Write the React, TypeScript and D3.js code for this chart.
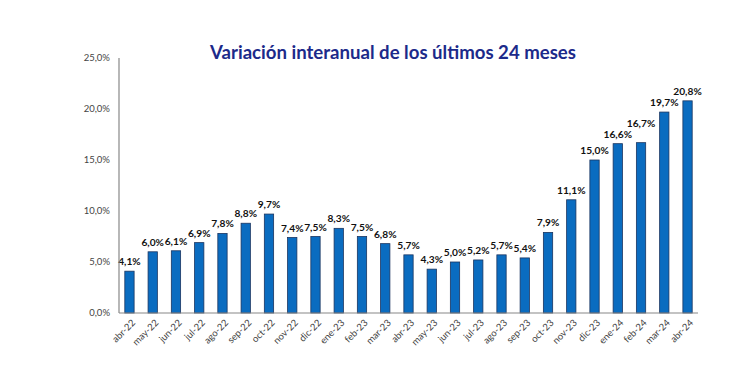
import React, { useEffect, useRef } from 'react';
import * as d3 from 'd3';

const months = [
  'abr-22', 'may-22', 'jun-22', 'jul-22', 'ago-22', 'sep-22', 'oct-22', 'nov-22',
  'dic-22', 'ene-23', 'feb-23', 'mar-23', 'abr-23', 'may-23', 'jun-23', 'jul-23',
  'ago-23', 'sep-23', 'oct-23', 'nov-23', 'dic-23', 'ene-24', 'feb-24', 'mar-24', 'abr-24',
];

const values = [
  4.1, 6.0, 6.1, 6.9, 7.8, 8.8, 9.7, 7.4, 7.5, 8.3, 7.5, 6.8, 5.7, 4.3, 5.0, 5.2,
  5.7, 5.4, 7.9, 11.1, 15.0, 16.6, 16.7, 19.7, 20.8,
];

const yTicks = [0, 5, 10, 15, 20, 25];

const fmt = (v: number) => v.toFixed(1).replace('.', ',') + '%';

const App = () => {
  const ref = useRef<SVGSVGElement>(null);

  useEffect(() => {
    if (!ref.current) return;
    const svg = d3.select(ref.current);
    svg.selectAll('*').remove();

    const left = 119, right = 698, top = 58, bottom = 313;
    const data = months.map((m, i) => ({ name: m, value: values[i] }));

    const x = d3.scaleBand()
      .domain(data.map(d => d.name))
      .range([left, right])
      .paddingInner(0.6)
      .paddingOuter(0.25);

    const y = d3.scaleLinear().domain([0, 25]).range([bottom, top]);

    svg.append('text')
      .attr('x', 393)
      .attr('y', 59)
      .attr('text-anchor', 'middle')
      .attr('font-family', 'Lato, "Open Sans", sans-serif')
      .attr('font-weight', 'bold')
      .attr('font-size', 18.6)
      .attr('fill', '#1c2a8a')
      .text('Variación interanual de los últimos 24 meses');

    // y tick labels
    svg.append('g')
      .selectAll('text')
      .data(yTicks)
      .enter()
      .append('text')
      .attr('x', left - 9)
      .attr('y', d => y(d))
      .attr('dy', '0.35em')
      .attr('text-anchor', 'end')
      .attr('font-family', 'Lato, sans-serif')
      .attr('font-size', 9.5)
      .attr('fill', '#444')
      .text(d => fmt(d));

    // bars
    svg.append('g')
      .selectAll('rect')
      .data(data)
      .enter()
      .append('rect')
      .attr('x', d => x(d.name)!)
      .attr('y', d => y(d.value))
      .attr('width', x.bandwidth())
      .attr('height', d => y(0) - y(d.value))
      .attr('fill', '#0a6cc0')
      .attr('stroke', '#1b3560')
      .attr('stroke-width', 0.8);

    // value labels, lifted when they would collide with the previous one
    const labels = svg.append('g')
      .selectAll('text')
      .data(data)
      .enter()
      .append('text')
      .attr('x', d => x(d.name)! + x.bandwidth() / 2)
      .attr('y', d => y(d.value) - 6)
      .attr('text-anchor', 'middle')
      .attr('font-family', 'Lato, sans-serif')
      .attr('font-weight', 'bold')
      .attr('font-size', 10.2)
      .attr('fill', '#111')
      .text(d => fmt(d.value));

    let prev: { x2: number; y: number } | null = null;
    labels.each(function () {
      const el = this as SVGTextElement;
      const b = el.getBBox();
      let ly = +el.getAttribute('y')!;
      if (prev && b.x < prev.x2 && Math.abs(ly - prev.y) < 11) {
        ly = prev.y - 11;
        el.setAttribute('y', String(ly));
      }
      prev = { x2: b.x + b.width, y: ly };
    });

    // axes lines
    svg.append('line')
      .attr('x1', left).attr('x2', left)
      .attr('y1', top).attr('y2', bottom)
      .attr('stroke', '#888').attr('stroke-width', 1.2);
    svg.append('line')
      .attr('x1', left).attr('x2', right)
      .attr('y1', bottom).attr('y2', bottom)
      .attr('stroke', '#888').attr('stroke-width', 1.2);

    // x labels
    svg.append('g')
      .selectAll('text')
      .data(data)
      .enter()
      .append('text')
      .attr('transform', d => `translate(${x(d.name)! + x.bandwidth() / 2 + 4},${bottom + 8}) rotate(-45)`)
      .attr('text-anchor', 'end')
      .attr('dy', '0.35em')
      .attr('font-family', 'Lato, sans-serif')
      .attr('font-size', 9.5)
      .attr('fill', '#444')
      .text(d => d.name);
  }, []);

  return (
    <svg ref={ref} width={750} height={371}
      style={{ position: 'absolute', left: 0, top: 0, background: '#fff' }} />
  );
};

export default App;
